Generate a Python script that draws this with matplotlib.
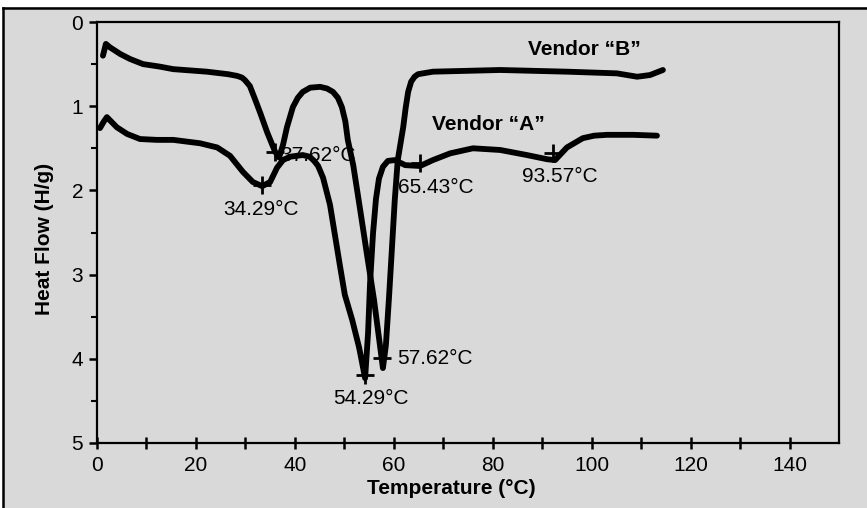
import numpy as np
import matplotlib
matplotlib.use("Agg")
import matplotlib.pyplot as plt
from matplotlib.lines import Line2D
from matplotlib.patches import Rectangle

# %%
# DSC traces (temperature in C, heat flow in H/g)
temp_b = [1.2, 1.8, 2.6, 4.7, 6.7, 9.3, 12.7, 15.4, 22.2, 26.5, 28.3, 29.3, 29.9, 30.9,
          31.9, 33.0, 34.4, 36.0, 36.8, 37.6, 38.4, 39.6, 40.6, 41.6, 43.1, 45.1,
          46.5, 47.7, 48.7, 49.5, 50.2, 50.7, 51.8, 53.2, 54.6, 56.0, 57.2, 57.8,
          58.4, 59.0, 59.6, 60.2, 60.8, 61.9, 62.4, 62.9, 63.5, 64.2, 64.9, 67.9,
          81.5, 95.0, 105.1, 109.2, 111.8, 114.4]
flow_b = [0.40, 0.26, 0.30, 0.38, 0.44, 0.50, 0.53, 0.56, 0.59, 0.62, 0.64, 0.66, 0.69, 0.76,
          0.91, 1.08, 1.31, 1.54, 1.61, 1.46, 1.25, 1.01, 0.90, 0.83, 0.78, 0.77,
          0.79, 0.83, 0.90, 1.01, 1.18, 1.40, 1.70, 2.23, 2.77, 3.30, 3.84, 4.11,
          3.84, 3.30, 2.71, 2.11, 1.64, 1.25, 1.02, 0.83, 0.71, 0.65, 0.62, 0.59,
          0.57, 0.59, 0.61, 0.65, 0.63, 0.57]

temp_a = [0.6, 1.4, 2.0, 3.0, 4.0, 6.1, 8.7, 12.1, 15.4, 20.8, 24.3, 26.9, 29.5,
          31.5, 33.4, 35.0, 36.4, 37.6, 39.0, 41.6, 43.0, 43.9, 44.7, 45.7, 47.1, 48.1,
          49.1, 50.1, 51.6, 53.0, 54.2, 54.8, 55.2, 55.8, 56.4, 57.0, 57.8, 58.8, 60.2,
          62.3, 65.3, 67.9, 71.4, 76.0, 81.5, 86.9, 91.0, 92.6, 95.0, 98.2, 100.5, 103.1,
          108.4, 113.2]
flow_a = [1.26, 1.18, 1.13, 1.19, 1.25, 1.33, 1.39, 1.40, 1.40, 1.44, 1.49, 1.59, 1.78,
          1.90, 1.95, 1.90, 1.73, 1.64, 1.60, 1.58, 1.60, 1.65, 1.71, 1.85, 2.17, 2.53,
          2.89, 3.24, 3.54, 3.87, 4.23, 3.69, 3.10, 2.51, 2.10, 1.86, 1.72, 1.65, 1.64,
          1.70, 1.71, 1.64, 1.56, 1.50, 1.52, 1.58, 1.63, 1.64, 1.49, 1.38, 1.35, 1.34,
          1.34, 1.35]

# peak markers and their labels
peak_temp = [36.0, 33.4, 54.2, 57.6, 65.3, 92.2]
peak_flow = [1.54, 1.94, 4.19, 3.99, 1.68, 1.56]
peak_text = ["37.62°C", "34.29°C", "54.29°C", "57.62°C", "65.43°C", "93.57°C"]
text_x = [37.0, 33.2, 55.4, 60.6, 60.8, 85.9]
text_y = [1.58, 2.23, 4.47, 4.00, 1.96, 1.83]
text_ha = ["left", "center", "center", "left", "left", "left"]

series_names = ["Vendor \u201cB\u201d", "Vendor \u201cA\u201d"]
name_x = [87.1, 67.7]
name_y = [0.33, 1.22]

x_major = np.arange(0, 141, 20)
x_minor = np.arange(10, 131, 20)
y_major = np.arange(0, 6, 1)
y_minor = np.arange(0.5, 5, 1)

# %%
bg = "#d9d9d9"
lwd = 4.2
plt.rcParams.update({"font.family": "Liberation Sans", "font.size": 14})

fig = plt.figure(figsize=(8.67, 5.08), dpi=100, facecolor=bg)
ax = fig.add_axes([97 / 867, 1 - 443 / 508, 742 / 867, 421 / 508])
ax.set_facecolor(bg)

# white strip and frame lines of the scanned page
fig.add_artist(Rectangle((0, 1 - 7 / 508), 1, 7 / 508, transform=fig.transFigure,
                         facecolor="white", edgecolor="none"))
fig.add_artist(Rectangle((0, 0), 2.5 / 867, 1, transform=fig.transFigure,
                         facecolor="white", edgecolor="none"))
fig.add_artist(Line2D([3.5 / 867, 1], [1 - 8 / 508, 1 - 8 / 508], color="black", lw=1.8,
                      transform=fig.transFigure))
fig.add_artist(Line2D([3.5 / 867, 3.5 / 867], [0, 1 - 8 / 508], color="black", lw=1.8,
                      transform=fig.transFigure))

ax.plot(temp_b, flow_b, color="black", lw=lwd, solid_capstyle="round", solid_joinstyle="round")
ax.plot(temp_a, flow_a, color="black", lw=lwd, solid_capstyle="round", solid_joinstyle="round")
ax.plot(peak_temp, peak_flow, "+", color="black", ms=13, mew=2)

for t, xx, yy, ha in zip(peak_text, text_x, text_y, text_ha):
    ax.text(xx, yy, t, ha=ha, va="center", fontsize=15)
for t, xx, yy in zip(series_names, name_x, name_y):
    ax.text(xx, yy, t, ha="left", va="center", fontsize=15, fontweight="bold")

ax.set_xlim(0, 150)
ax.set_ylim(5, 0)
ax.set_xticks(x_major)
ax.set_xticks(x_minor, minor=True)
ax.set_yticks(y_major)
ax.set_yticks(y_minor, minor=True)

for s in ax.spines.values():
    s.set_linewidth(1.6)
ax.tick_params(axis="x", which="both", direction="inout", length=9, width=1.8, pad=5,
               labelsize=15)
ax.tick_params(axis="y", which="major", direction="out", length=6, width=1.8, pad=4,
               labelsize=15)
ax.tick_params(axis="y", which="minor", direction="out", length=4, width=1.5)

ax.set_xlabel("Temperature (°C)", fontsize=15, fontweight="bold")
ax.set_ylabel("Heat Flow (H/g)", fontsize=15, fontweight="bold")
ax.xaxis.set_label_coords(0.478, -0.085)
ax.yaxis.set_label_coords(-0.058, 0.485)

plt.savefig("out.png", dpi=100, facecolor=bg)
